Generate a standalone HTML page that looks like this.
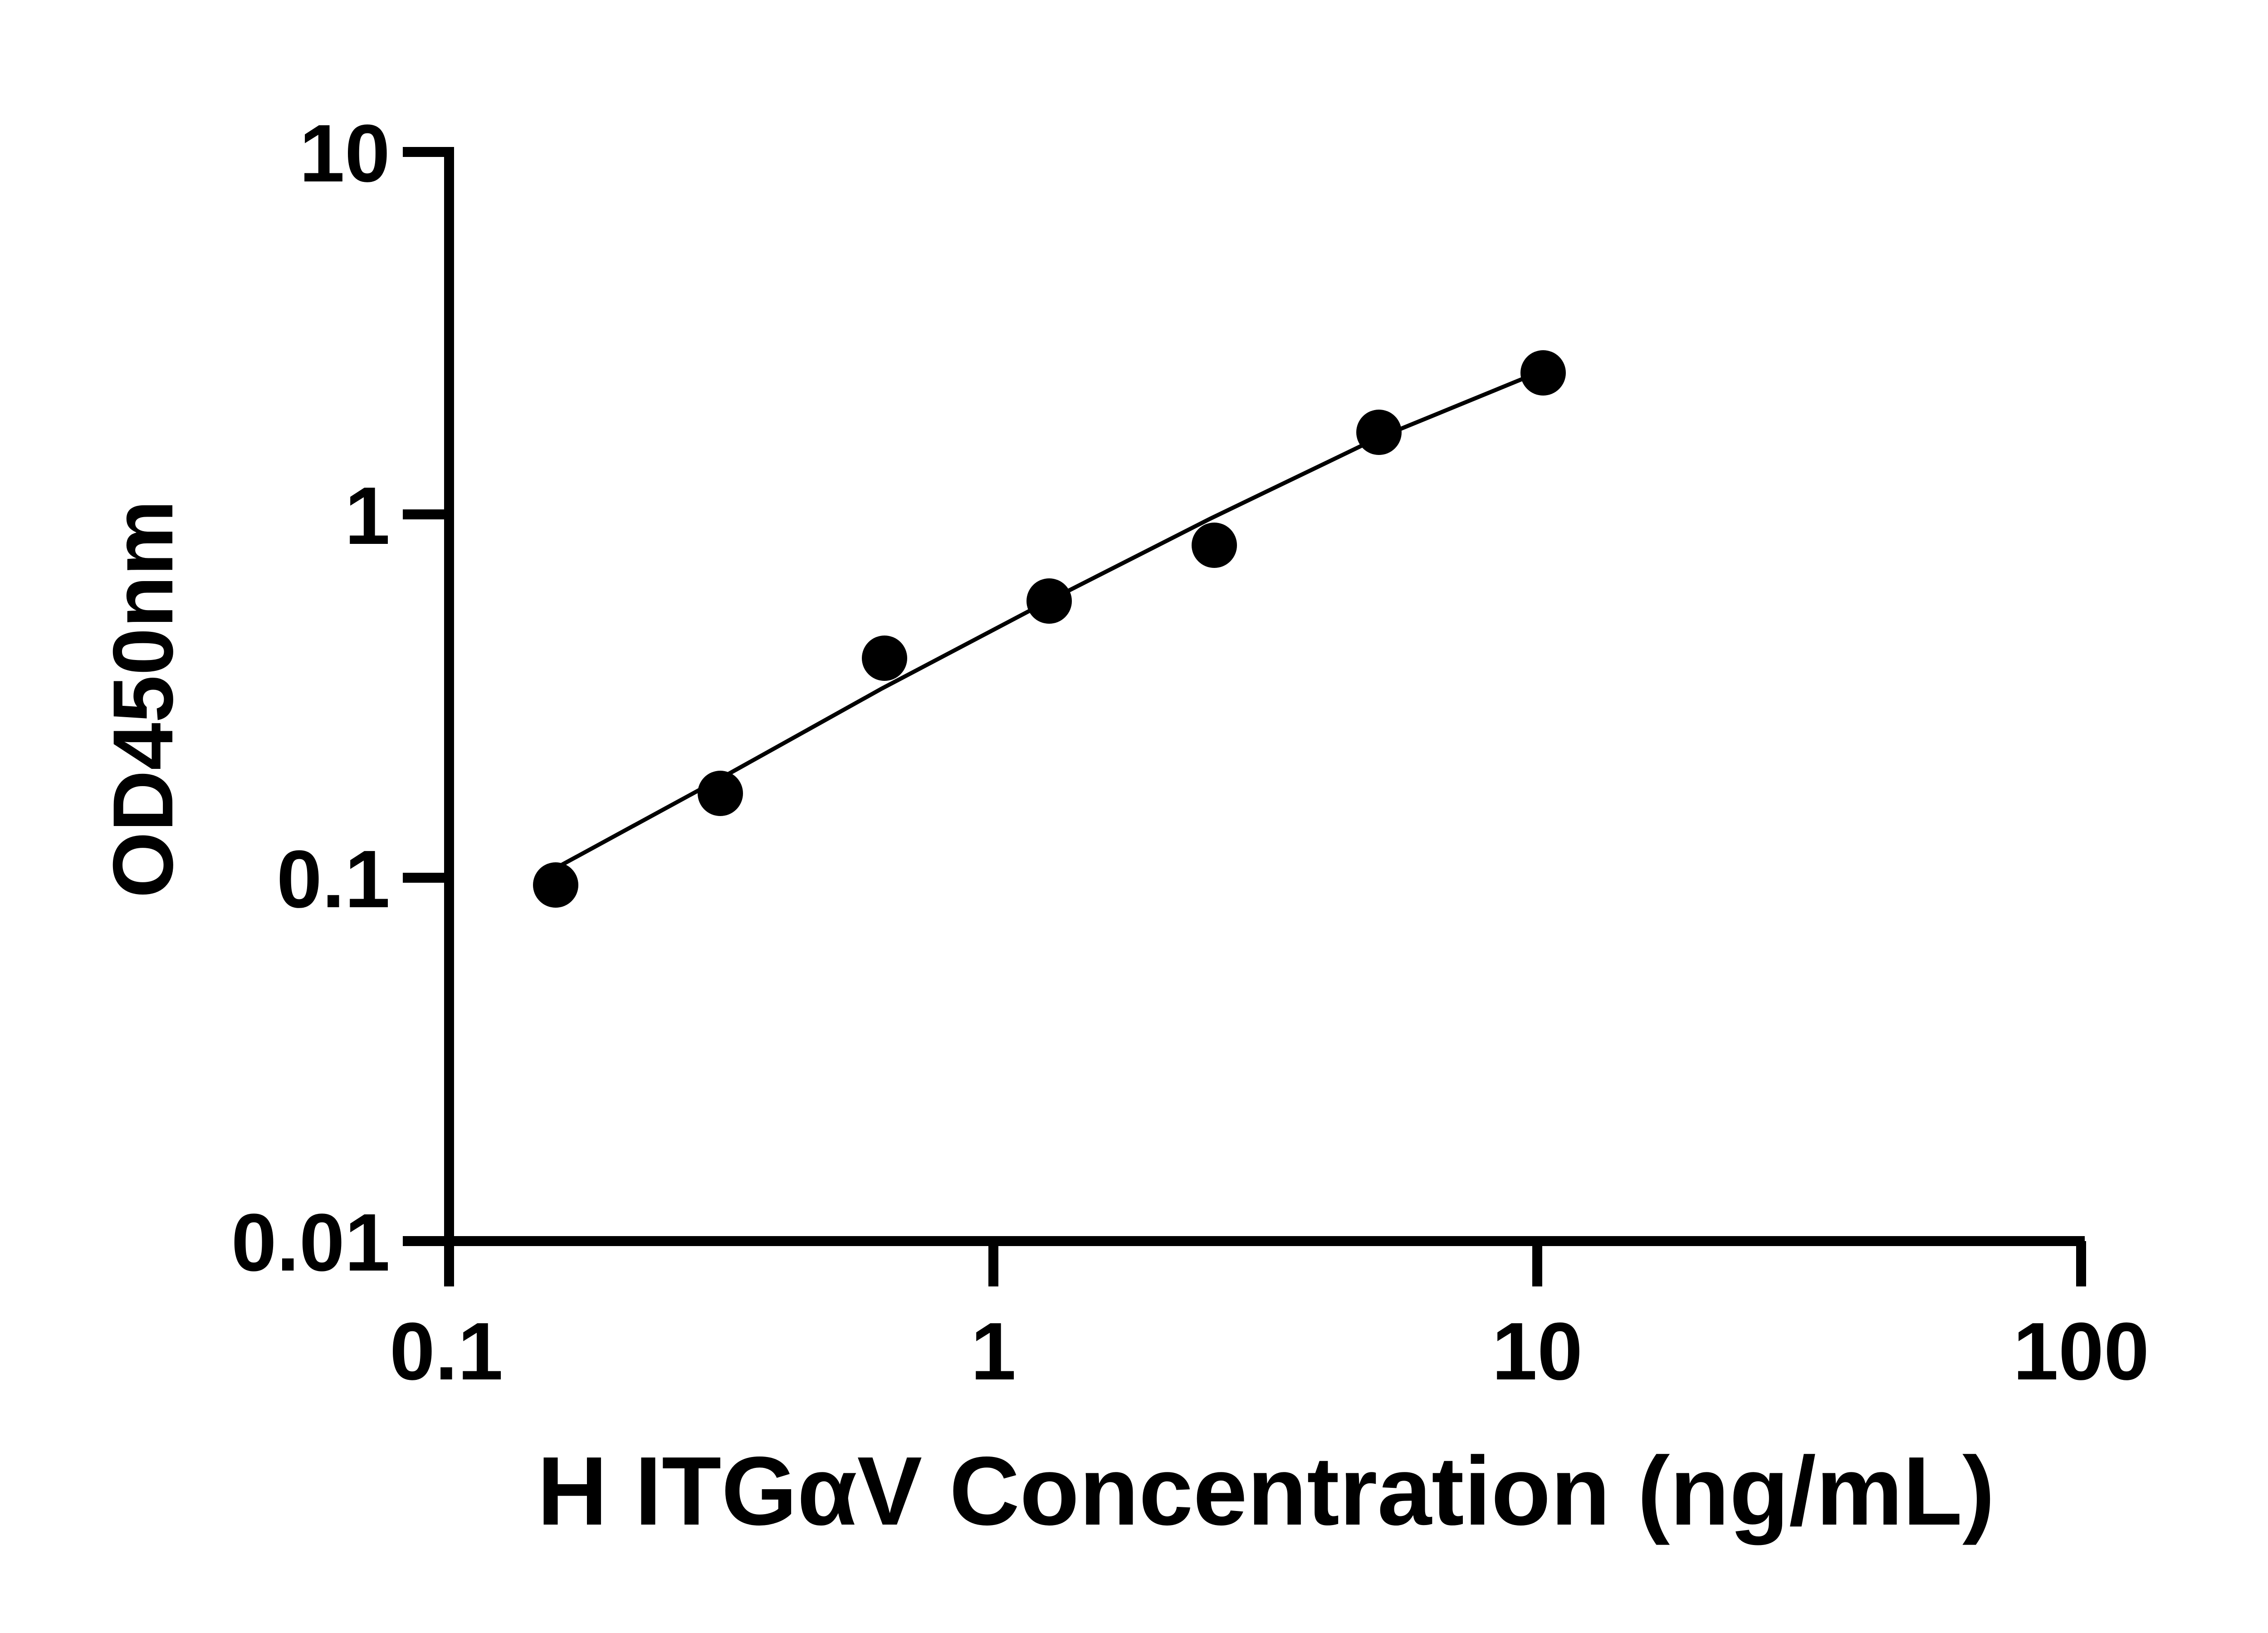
<!DOCTYPE html>
<html><head><meta charset="utf-8"><style>
html,body{margin:0;padding:0;background:#fff;}
svg{display:block;}
text{font-family:"Liberation Sans",sans-serif;font-weight:bold;fill:#000;}
</style></head><body>
<svg width="5142" height="3600" viewBox="0 0 5142 3600" xmlns="http://www.w3.org/2000/svg">
<g stroke="#000" stroke-width="22" fill="none">
<line x1="990" y1="324" x2="990" y2="2836"/>
<line x1="979" y1="2736" x2="4596" y2="2736"/>
<line x1="888" y1="335" x2="990" y2="335"/>
<line x1="888" y1="1134" x2="990" y2="1134"/>
<line x1="888" y1="1935" x2="990" y2="1935"/>
<line x1="888" y1="2736" x2="990" y2="2736"/>
<line x1="2190" y1="2736" x2="2190" y2="2836"/>
<line x1="3389" y1="2736" x2="3389" y2="2836"/>
<line x1="4588" y1="2736" x2="4588" y2="2836"/>
</g>
<polyline fill="none" stroke="#000" stroke-width="9" points="1221,1916 1583,1719 1944,1518 2305,1328 2667,1144 3028,970 3389,822"/>
<g fill="#000">
<circle cx="1225" cy="1951" r="50"/>
<circle cx="1588" cy="1749" r="50"/>
<circle cx="1950" cy="1451" r="50"/>
<circle cx="2313" cy="1325" r="50"/>
<circle cx="2677" cy="1202" r="50"/>
<circle cx="3040" cy="953" r="50"/>
<circle cx="3402" cy="822" r="50"/>
</g>
<g font-size="180" text-anchor="end">
<text x="860" y="400">10</text>
<text x="860" y="1199">1</text>
<text x="860" y="2000">0.1</text>
<text x="860" y="2801">0.01</text>
</g>
<g font-size="180" text-anchor="middle">
<text x="984" y="3041">0.1</text>
<text x="2190" y="3041">1</text>
<text x="3389" y="3041">10</text>
<text x="4588" y="3041">100</text>
</g>
<text x="2791" y="3361" font-size="215" text-anchor="middle">H ITGαV Concentration (ng/mL)</text>
<text transform="translate(380,1541) rotate(-90)" font-size="188" text-anchor="middle">OD450nm</text>
</svg>
</body></html>
